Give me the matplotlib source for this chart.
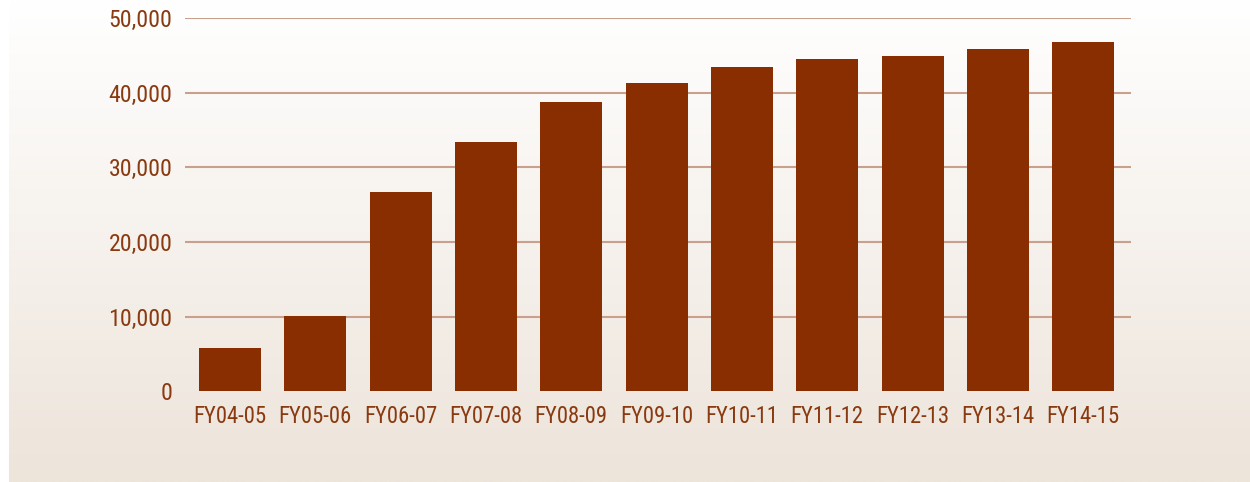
import numpy as np
import matplotlib
matplotlib.use("Agg")
import matplotlib.pyplot as plt
from matplotlib import font_manager
from matplotlib.ticker import FuncFormatter

categories = ["FY04-05", "FY05-06", "FY06-07", "FY07-08", "FY08-09", "FY09-10",
              "FY10-11", "FY11-12", "FY12-13", "FY13-14", "FY14-15"]
values = [5800, 10100, 26700, 33400, 38750, 41300, 43450, 44500, 44900, 45850, 46800]
y_ticks = [0, 10000, 20000, 30000, 40000, 50000]

BAR = "#882E00"
TEXT = "#8A3A10"
GRID = "#C9A08C"

# prefer a narrow face when one is available
available = {f.name for f in font_manager.fontManager.ttflist}
narrow = [n for n in ["Roboto Condensed", "Liberation Sans Narrow", "Open Sans Condensed"]
          if n in available]
family = narrow[0] if narrow else "Roboto"
ysize, xsize = (17.2, 16.4) if narrow else (15, 14.5)
plt.rcParams["font.family"] = [family, "DejaVu Sans"]

W, H = 1250, 482
fig = plt.figure(figsize=(W / 100, H / 100), dpi=100)
fig.patch.set_facecolor("white")

# vertical gradient panel behind the chart
bg = fig.add_axes([9 / W, 0, 1 - 9 / W, 1], zorder=0)
top = np.array([1.0, 1.0, 1.0])
bot = np.array([0xED, 0xE4, 0xDA]) / 255
t = np.linspace(0, 1, 256)[:, None]
grad = (top * (1 - t) + bot * t)[:, None, :].repeat(2, axis=1)
bg.imshow(grad, aspect="auto", extent=[0, 1, 0, 1], interpolation="bilinear")
bg.set_axis_off()

left, right = 185 / W, 1131 / W
bottom_px, top_px = 391.4, 18.0
ymax = 50000
ax = fig.add_axes([left, 1 - bottom_px / H, right - left, (bottom_px - top_px) / H], zorder=1)
ax.set_facecolor("none")

x = np.arange(len(categories))
ax.bar(x, values, width=0.727, color=BAR, zorder=3)
ax.set_xlim(-0.527, len(categories) - 1 + 0.56)
ax.set_ylim(0, ymax)

ax.set_yticks(y_ticks)
ax.yaxis.set_major_formatter(FuncFormatter(lambda v, p: f"{int(v):,}"))
ax.set_xticks(x)
ax.set_xticklabels(categories)

for yv in y_ticks[1:]:
    ax.axhline(yv, color=GRID, lw=1.5, zorder=1)

ax.tick_params(axis="both", length=0, labelcolor=TEXT)
ax.tick_params(axis="y", pad=9, labelsize=ysize)
ax.tick_params(axis="x", pad=10, labelsize=xsize)
for s in ax.spines.values():
    s.set_visible(False)

fig.savefig("out.png", dpi=100)
